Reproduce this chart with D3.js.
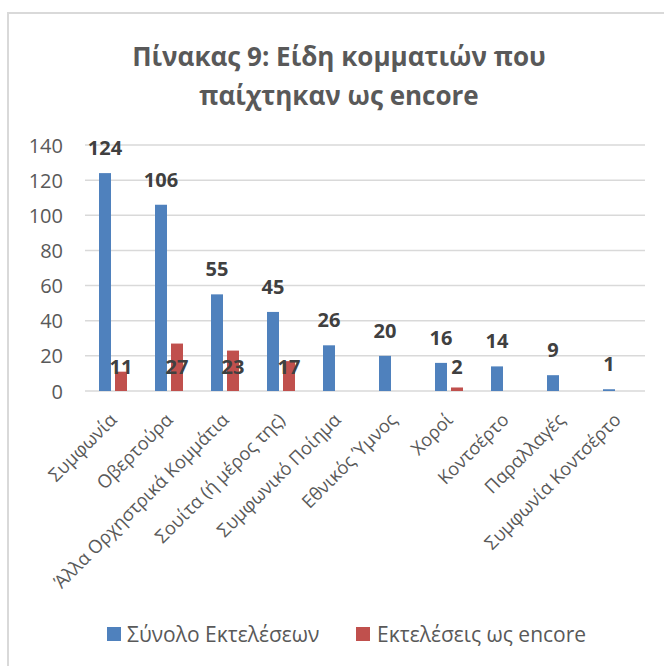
<!DOCTYPE html>
<html><head><meta charset="utf-8">
<script src="https://cdn.jsdelivr.net/npm/d3@7"></script>
<style>html,body{margin:0;padding:0;background:#fff;}svg{display:block;}</style>
</head><body>
<script>
const categories = ["Συμφωνία","Οβερτούρα","Άλλα Ορχηστρικά Κομμάτια","Σουίτα (ή μέρος της)","Συμφωνικό Ποίημα","Εθνικός Ύμνος","Χοροί","Κοντσέρτο","Παραλλαγές","Συμφωνία Κοντσέρτο"];
const totalPerformances = [124,106,55,45,26,20,16,14,9,1];
const encorePerformances = [11,27,23,17,null,null,2,null,null,null];
const seriesNames = ["Σύνολο Εκτελέσεων","Εκτελέσεις ως encore"];
const yTicks = [0,20,40,60,80,100,120,140];
const titleLines = ["Πίνακας 9: Είδη κομματιών που","παίχτηκαν ως encore"];

const W=664,H=666;
const colors=["#4F81BD","#C0504D"];
const font="'Open Sans', sans-serif";
const svg=d3.select("body").append("svg").attr("width",W).attr("height",H);
svg.append("rect").attr("width",W).attr("height",H).attr("fill","#fff");
svg.append("rect").attr("x",8).attr("y",13).attr("width",720).attr("height",720)
  .attr("fill","none").attr("stroke","#d9d9d9").attr("stroke-width",2);

const plot={left:85,right:645,top:145,bottom:391};
const x=d3.scaleBand().domain(categories).range([plot.left,plot.right]);
const y=d3.scaleLinear().domain([0,140]).range([plot.bottom,plot.top]);

const totalData=totalPerformances.map((v,i)=>({v,c:categories[i]}));
const encoreData=encorePerformances.map((v,i)=>({v,c:categories[i]})).filter(d=>d.v!=null);

// title
svg.append("g").selectAll("text").data(titleLines).join("text")
  .attr("x",339).attr("y",(d,i)=>66+i*39).attr("text-anchor","middle")
  .attr("font-family",font).attr("font-weight","bold").attr("font-size",26)
  .attr("fill","#595959").text(d=>d);

// gridlines
svg.append("g").selectAll("line").data(yTicks).join("line")
  .attr("x1",plot.left).attr("x2",plot.right).attr("y1",d=>y(d)).attr("y2",d=>y(d))
  .attr("stroke","#d9d9d9").attr("stroke-width",1.5);
// y axis labels
const yAxis=d3.axisLeft(y).tickValues(yTicks).tickSize(0).tickPadding(0);
const ya=svg.append("g").attr("transform","translate(63,0)").call(yAxis);
ya.select(".domain").remove();
ya.selectAll("text").attr("font-family",font).attr("font-size",20).attr("fill","#595959").attr("dy","0.35em");

const bw=12, off=8;
const cx=c=>x(c)+x.bandwidth()/2;
// bars
svg.append("g").selectAll("rect").data(totalData).join("rect")
  .attr("x",d=>cx(d.c)-off-bw/2).attr("width",bw)
  .attr("y",d=>y(d.v)).attr("height",d=>y(0)-y(d.v)).attr("fill",colors[0]);
svg.append("g").selectAll("rect").data(encoreData).join("rect")
  .attr("x",d=>cx(d.c)+off-bw/2).attr("width",bw)
  .attr("y",d=>y(d.v)).attr("height",d=>y(0)-y(d.v)).attr("fill",colors[1]);

// value labels
svg.append("g").selectAll("text").data(totalData).join("text")
  .attr("x",d=>cx(d.c)-off).attr("y",d=>y(d.v)-25)
  .attr("dy","0.35em").attr("text-anchor","middle")
  .attr("font-family",font).attr("font-weight","bold").attr("font-size",20).attr("fill","#404040")
  .text(d=>d.v);
svg.append("g").selectAll("text").data(encoreData).join("text")
  .attr("x",d=>cx(d.c)+off).attr("y",y(0)-24)
  .attr("dy","0.35em").attr("text-anchor","middle")
  .attr("font-family",font).attr("font-weight","bold").attr("font-size",20).attr("fill","#404040")
  .text(d=>d.v);

// x labels
svg.append("g").selectAll("text").data(categories).join("text")
  .attr("transform",d=>`translate(${cx(d)+5},421) rotate(-45)`)
  .attr("text-anchor","end").attr("font-family",font).attr("font-size",18.3).attr("fill","#595959")
  .text(d=>d);

// legend
const leg=[{x:107,tx:127},{x:356,tx:377}];
const lg=svg.append("g").selectAll("g").data(seriesNames).join("g");
lg.append("rect").attr("x",(d,i)=>leg[i].x).attr("y",627).attr("width",14).attr("height",14).attr("fill",(d,i)=>colors[i]);
lg.append("text").attr("x",(d,i)=>leg[i].tx).attr("y",642).attr("font-family",font).attr("font-size",21).attr("fill","#595959").text(d=>d);
</script>
</body></html>
